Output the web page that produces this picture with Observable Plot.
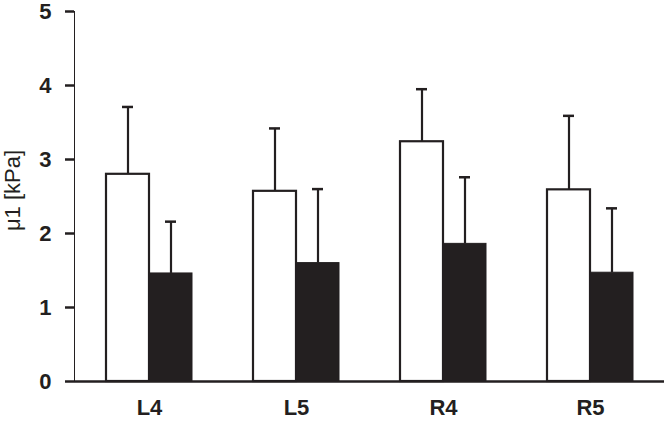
<!DOCTYPE html>
<html>
<head>
<meta charset="utf-8">
<script src="https://cdn.jsdelivr.net/npm/d3@7"></script>
<script src="https://cdn.jsdelivr.net/npm/@observablehq/plot@0.6"></script>
<style>
  html, body { margin: 0; padding: 0; background: #fff; }
  #chart svg { font-family: "Liberation Sans", Arial, sans-serif; color: #231f20; }
  #chart [aria-label^="y-axis"] text { font-size: 22px; font-weight: bold; fill: #231f20; }
  #chart [aria-label^="x-axis"] text { font-size: 22px; font-weight: bold; fill: #231f20; }
  #chart [aria-label^="y-axis"] line, #chart [aria-label^="y-axis"] path { stroke-width: 2.5px; stroke: #231f20; }
</style>
</head>
<body>
<div id="chart"></div>
<script>
const groups = ["L4", "L5", "R4", "R5"];
const whiteMean = [2.80, 2.57, 3.24, 2.59];
const whiteErr  = [0.91, 0.85, 0.71, 1.00];
const blackMean = [1.46, 1.60, 1.86, 1.47];
const blackErr  = [0.70, 1.00, 0.90, 0.87];
const yTicks = [0, 1, 2, 3, 4, 5];
const yLabel = "μ1 [kPa]";

const white = groups.map((g, i) => ({group: g, mean: whiteMean[i], top: whiteMean[i] + whiteErr[i]}));
const black = groups.map((g, i) => ({group: g, mean: blackMean[i], top: blackMean[i] + blackErr[i]}));

const ink = "#231f20";
const half = 43;

const plot = Plot.plot({
  width: 666,
  height: 421,
  marginLeft: 74,
  marginRight: 2,
  marginTop: 11,
  marginBottom: 40,
  x: {domain: groups, paddingInner: 0.417, paddingOuter: 0.21, tickSize: 0, tickPadding: 18, label: null},
  y: {domain: [0, 5], ticks: yTicks, tickSize: 9, tickPadding: 14, line: true, label: null, tickFormat: d => String(d)},
  marks: [
    Plot.ruleX(white, {x: "group", y1: "mean", y2: "top", dx: -half / 2, stroke: ink, strokeWidth: 2.2}),
    Plot.tickY(white, {x: "group", y: "top", insetLeft: 16, insetRight: 59, stroke: ink, strokeWidth: 2.5}),
    Plot.ruleX(black, {x: "group", y1: "mean", y2: "top", dx: half / 2, stroke: ink, strokeWidth: 2.2}),
    Plot.tickY(black, {x: "group", y: "top", insetLeft: 59, insetRight: 16, stroke: ink, strokeWidth: 2.5}),
    Plot.barY(white, {x: "group", y: "mean", insetRight: half, fill: "white", stroke: ink, strokeWidth: 2.2}),
    Plot.barY(black, {x: "group", y: "mean", insetLeft: half, fill: ink, stroke: ink, strokeWidth: 1}),
    Plot.ruleY([0], {stroke: ink, strokeWidth: 2.5}),
    Plot.text([yLabel], {frameAnchor: "left", textAnchor: "middle", lineAnchor: "middle", rotate: -90, dx: -62, dy: -6, fontSize: 22, fill: ink})
  ]
});
document.getElementById("chart").appendChild(plot);
</script>
</body>
</html>
